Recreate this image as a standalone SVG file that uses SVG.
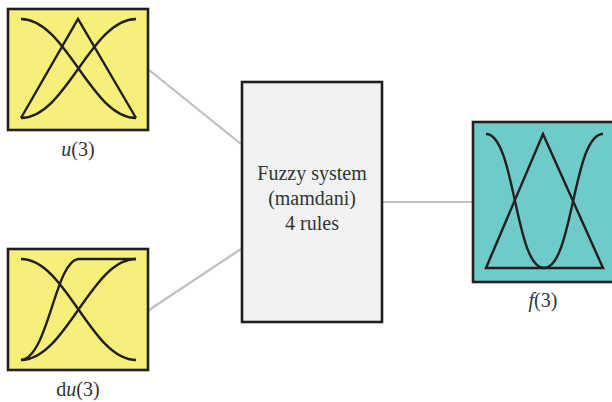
<svg xmlns="http://www.w3.org/2000/svg" width="612" height="402" viewBox="0 0 612 402">
  <style>
    .box { stroke: #231f20; stroke-width: 2.6; }
    .in { fill: #f6f07a; }
    .out { fill: #6ecbca; }
    .sys { fill: #f1f2f4; }
    .mf { fill: none; stroke: #231f20; stroke-width: 2.4; stroke-linejoin: miter; }
    .link { stroke: #bfbfc1; stroke-width: 2.2; fill: none; }
    .lbl { font-family: "Liberation Serif", "DejaVu Serif", serif; font-size: 20px; fill: #333; text-anchor: middle; }
    .it { font-style: italic; }
  </style>

  <!-- connectors between the blocks -->
  <g id="connectors">
    <line class="link" x1="149" y1="70" x2="241" y2="144"/>
    <line class="link" x1="149" y1="310" x2="241" y2="249"/>
    <line class="link" x1="383" y1="202" x2="473" y2="202"/>
  </g>

  <!-- input u(3): two sigmoids and a triangle -->
  <g id="input-u">
    <rect class="box in" x="8" y="9" width="140" height="121"/>
    <path class="mf" d="M21,19 C66,19 91,118 136,118"/>
    <path class="mf" d="M21,118 C66,118 91,19 136,19"/>
    <path class="mf" d="M21,118 L78,19 L136,118"/>
    <text class="lbl" x="78" y="156"><tspan class="it">u</tspan>(3)</text>
  </g>

  <!-- input du(3): two sigmoids and a saturating ramp -->
  <g id="input-du">
    <rect class="box in" x="8" y="249" width="140" height="121"/>
    <path class="mf" d="M21,259 C66,259 91,360 136,360"/>
    <path class="mf" d="M21,360 C66,360 91,259 136,259"/>
    <path class="mf" d="M21,360 C48,358 55,262 78,259 L136,259"/>
    <text class="lbl" x="78" y="396">d<tspan class="it">u</tspan>(3)</text>
  </g>

  <!-- inference block -->
  <g id="fuzzy-system">
    <rect class="box sys" x="242" y="82" width="140" height="240"/>
    <text class="lbl" x="312" y="180">Fuzzy system</text>
    <text class="lbl" x="312" y="205">(mamdani)</text>
    <text class="lbl" x="312" y="230">4 rules</text>
  </g>

  <!-- output f(3): triangle and two sigmoids -->
  <g id="output-f">
    <rect class="box out" x="473" y="122" width="145" height="160"/>
    <path class="mf" d="M486,268 L543,134 L603,268 Z"/>
    <path class="mf" d="M486,134 C515,134 515,268 544,268 C573,268 573,134 603,134"/>
    <text class="lbl" x="543" y="307"><tspan class="it">f</tspan>(3)</text>
  </g>
</svg>
